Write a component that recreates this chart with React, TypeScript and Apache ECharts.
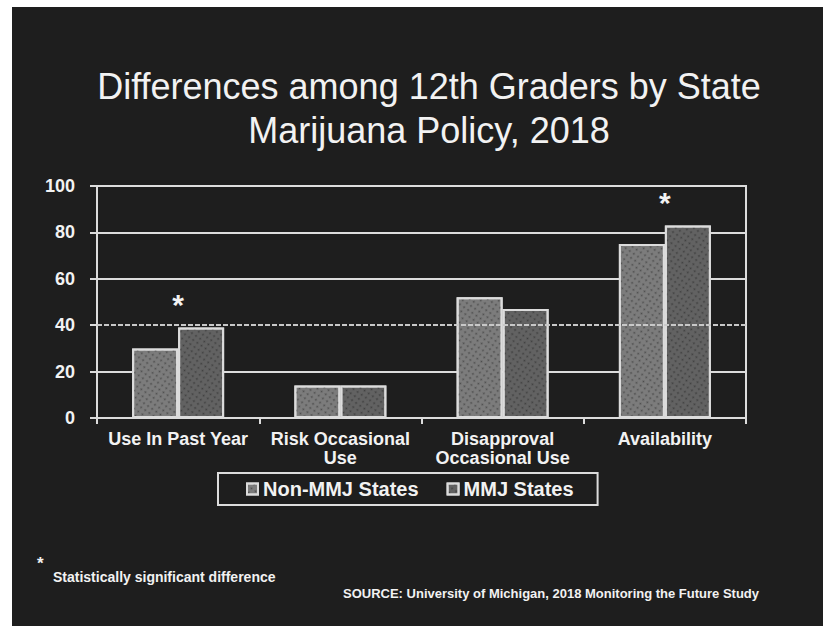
import React, { useEffect, useRef } from "react";
import * as echarts from "echarts";

const categories = [
  "Use In Past Year",
  "Risk Occasional\nUse",
  "Disapproval\nOccasional Use",
  "Availability",
];
const seriesNames = ["Non-MMJ States", "MMJ States"];
const nonMmjValues = [30, 14, 52, 75];
const mmjValues = [39, 14, 47, 83];
const significant = [true, false, false, true];
const yMin = 0;
const yMax = 100;
const yInterval = 20;

const titleText = "Differences among 12th Graders by State\nMarijuana Policy, 2018";
const footnoteText = "Statistically significant difference";
const sourceText = "SOURCE: University of Michigan, 2018 Monitoring the Future Study";

const FONT = "'Liberation Sans', Arial, sans-serif";
const WHITE = "#f2f2f2";
const LINE = "#dcdcdc";

export default function App() {
  const ref = useRef<HTMLDivElement>(null);

  useEffect(() => {
    if (!ref.current) return;
    const chart = echarts.init(ref.current, undefined, { renderer: "svg" });

    const starData = categories
      .map((c, i) =>
        significant[i]
          ? { coord: [c, Math.max(nonMmjValues[i], mmjValues[i]) + 10] }
          : null
      )
      .filter(Boolean);

    const barBase = (color: string) => ({
      color,
      borderColor: LINE,
      borderWidth: 2,
      decal: {
        symbol: "circle",
        symbolSize: 0.6,
        dashArrayX: [3, 2],
        dashArrayY: [3, 2],
        rotation: 0.6,
        color: "rgba(20,20,20,0.45)",
      },
    });

    chart.setOption({
      animation: false,
      backgroundColor: "#ffffff",
      graphic: [
        {
          type: "rect",
          z: -10,
          silent: true,
          shape: { x: 12, y: 7, width: 823, height: 640 },
          style: { fill: "#1e1e1e" },
        },
        {
          type: "text",
          left: 37,
          top: 555,
          style: { text: "*", fill: WHITE, font: `bold 17px ${FONT}` },
        },
        {
          type: "text",
          left: 53,
          top: 570,
          style: { text: footnoteText, fill: WHITE, font: `bold 14px ${FONT}` },
        },
        {
          type: "text",
          left: 343,
          top: 587,
          style: { text: sourceText, fill: WHITE, font: `bold 13px ${FONT}` },
        },
      ],
      title: {
        text: titleText,
        left: 424,
        top: 59,
        textAlign: "center",
        textStyle: {
          color: WHITE,
          fontFamily: FONT,
          fontSize: 36,
          fontWeight: "normal",
          lineHeight: 44,
        },
      },
      legend: {
        data: seriesNames,
        left: 218,
        top: 473,
        selectedMode: false,
        borderColor: LINE,
        borderWidth: 2,
        padding: [6, 24, 6, 28],
        itemWidth: 11,
        itemHeight: 11,
        itemGap: 28,
        icon: "rect",
        textStyle: {
          color: WHITE,
          fontFamily: FONT,
          fontSize: 20,
          fontWeight: "bold",
        },
      },
      grid: {
        left: 97,
        right: 77,
        top: 186,
        bottom: 208,
        show: true,
        borderColor: LINE,
        borderWidth: 2,
        backgroundColor: "transparent",
      },
      xAxis: {
        type: "category",
        data: categories,
        axisLine: { lineStyle: { color: LINE, width: 2 } },
        axisTick: { show: true, length: 6, lineStyle: { color: LINE, width: 2 } },
        axisLabel: {
          color: WHITE,
          fontFamily: FONT,
          fontSize: 18,
          fontWeight: "bold",
          lineHeight: 19,
          margin: 11,
          interval: 0,
        },
      },
      yAxis: {
        type: "value",
        min: yMin,
        max: yMax,
        interval: yInterval,
        axisLine: { show: true, lineStyle: { color: LINE, width: 2 } },
        axisTick: { show: true, length: 7, lineStyle: { color: LINE, width: 2 } },
        axisLabel: {
          color: WHITE,
          fontFamily: FONT,
          fontSize: 18,
          fontWeight: "bold",
          margin: 22,
        },
        splitLine: {
          show: true,
          lineStyle: {
            color: [LINE, LINE, "rgba(0,0,0,0)", LINE, LINE, LINE],
            width: 2,
          },
        },
      },
      series: [
        {
          type: "line",
          data: [],
          z: 1,
          silent: true,
          markLine: {
            silent: true,
            symbol: "none",
            label: { show: false },
            lineStyle: { color: "#c8c8c8", width: 2, type: [5, 2] },
            data: [{ yAxis: 40 }],
          },
          markPoint: {
            symbol: "circle",
            symbolSize: 1,
            itemStyle: { color: "rgba(0,0,0,0)" },
            label: {
              show: true,
              position: "inside",
              formatter: "*",
              color: WHITE,
              fontFamily: FONT,
              fontSize: 30,
              fontWeight: "bold",
            },
            data: starData,
          },
        },
        {
          name: seriesNames[0],
          type: "bar",
          data: nonMmjValues,
          barWidth: 46,
          barGap: "0%",
          z: 3,
          itemStyle: barBase("#7c7c7c"),
        },
        {
          name: seriesNames[1],
          type: "bar",
          data: mmjValues,
          barWidth: 46,
          barGap: "0%",
          z: 3,
          itemStyle: barBase("#626262"),
        },
      ],
    });

    return () => chart.dispose();
  }, []);

  return (
    <div
      ref={ref}
      style={{ position: "fixed", left: 0, top: 0, width: 823, height: 626 }}
    />
  );
}
